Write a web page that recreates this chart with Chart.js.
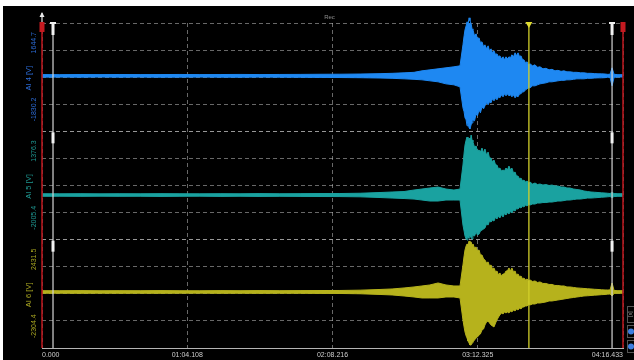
<!DOCTYPE html>
<html>
<head>
<meta charset="utf-8">
<script src="https://cdn.jsdelivr.net/npm/chart.js@4"></script>
<style>
  html, body { margin: 0; padding: 0; background: #fff; width: 634px; height: 360px; overflow: hidden; }
  #wrap { position: absolute; left: 3px; top: 6px; width: 631px; height: 354px; background: #000; }
  canvas { display: block; }
</style>
</head>
<body>
<div id="wrap"><canvas id="scope" width="631" height="354"></canvas></div>
<script>
// Sample times (s) of the min/max envelopes
const times = [0, 7.9, 16.8, 25.6, 34.4, 43.3, 52.1, 60.9, 69.7, 78.6, 87.4, 96.2, 105.0, 113.9, 122.7, 131.5, 140.4, 149.2,
  154.5, 159.8, 164.2, 167.7, 171.2, 174.8, 178.3, 181.8, 184.5,
  185.8, 186.3, 186.7, 187.2, 187.6, 188.0, 188.5, 188.9, 189.4, 189.8, 190.2,
  190.9, 191.6, 192.2, 192.9, 193.5, 194.2, 194.9, 195.5, 196.2, 196.9, 197.5, 198.2, 198.8, 199.5, 200.2, 200.8, 201.5, 202.1, 202.8,
  203.5, 204.1, 204.8, 205.4, 206.1, 206.8, 207.4, 208.1, 208.8, 209.4, 210.1, 210.8, 211.4, 212.1, 212.7, 213.4, 214.1, 214.7, 215.4,
  216.5, 217.6, 218.7, 219.8,
  221.1, 222.4, 223.8, 225.1, 226.4, 227.7, 229.1, 230.4, 231.7, 233.0,
  234.6, 236.1, 237.7, 239.2, 240.8, 242.3, 243.8, 245.4, 246.9, 248.5,
  249.6, 250.7, 251.6, 252.5, 254.2, 256.433];

// AI 4 envelope (V)
const ai4High = [-10, -12, -8, -11, -7, -10, -9, -6, -10, -8, -5, -9, -6, -4, 0, 2, 8, 20,
  30, 46, 62, 110, 142, 175, 207, 239, 271,
  944, 1233, 1426, 1554, 1682, 1586, 1811, 1714, 1618, 1458, 1426,
  1233, 1297, 1137, 1169, 1009, 1041, 880, 944, 816, 912, 752, 816, 688, 752, 624, 656, 560, 592, 495,
  560, 463, 560, 495, 560, 527, 624, 560, 688, 592, 688, 560, 592, 463, 463, 367, 399, 303, 335,
  271, 303, 223, 239,
  175, 191, 142, 159, 110, 126, 94, 110, 78, 78,
  62, 62, 46, 46, 30, 30, 21, 14, 14, 8,
  -2, -2, 207, -2, -12, -12];
const ai4Low = [-92, -90, -94, -89, -93, -91, -95, -92, -90, -93, -96, -91, -94, -97, -100, -104, -110, -120,
  -130, -146, -162, -178, -210, -242, -307, -339, -403,
  -1077, -1205, -1397, -1462, -1654, -1558, -1718, -1750, -1622, -1558, -1462,
  -1494, -1269, -1333, -1141, -1237, -1044, -1109, -1012, -916, -980, -884, -916, -788, -852, -756, -820, -724, -756, -660,
  -724, -627, -692, -627, -692, -660, -724, -660, -756, -692, -724, -627, -627, -563, -563, -499, -467, -435, -435,
  -371, -371, -339, -307,
  -291, -275, -242, -242, -226, -210, -194, -194, -178, -178,
  -162, -146, -146, -146, -130, -130, -121, -114, -114, -108,
  -98, -98, -371, -98, -88, -88];

// AI 5 envelope (V)
const ai5High = [-572, -574, -570, -575, -571, -573, -569, -572, -574, -570, -573, -568, -572, -569, -566, -565, -556, -534,
  -518, -503, -456, -425, -393, -362, -425, -456, -425,
  325, 699, 949, 1105, 1199, 1043, 1168, 1011, 1261, 1105, 1043,
  887, 918, 762, 793, 730, 855, 699, 824, 637, 730, 543, 543, 418, 481, 325, 325, 200, 231, 137,
  169, 137, 231, 169, 293, 169, 231, 75, 106, -19, -19, -112, -81, -175, -144, -206, -175, -237, -206,
  -269, -237, -284, -269,
  -300, -284, -315, -300, -331, -331, -362, -362, -393, -393,
  -425, -440, -456, -487, -503, -518, -525, -534, -543, -550,
  -556, -565, -534, -565, -571, -571];
const ai5Low = [-652, -650, -654, -649, -653, -651, -656, -652, -649, -655, -651, -656, -653, -655, -658, -660, -668, -690,
  -706, -721, -737, -768, -799, -799, -768, -768, -768,
  -1549, -1736, -1892, -1986, -2017, -1923, -1954, -1892, -1923, -1986, -1861,
  -1892, -1767, -1861, -1830, -1736, -1705, -1673, -1642, -1517, -1549, -1424, -1455, -1393, -1424, -1299, -1361, -1268, -1330, -1221,
  -1299, -1190, -1236, -1158, -1205, -1127, -1174, -1080, -1112, -1033, -1049, -987, -1018, -955, -987, -924, -955, -909, -924,
  -893, -893, -862, -862,
  -846, -846, -831, -831, -815, -799, -799, -784, -768, -768,
  -752, -737, -737, -721, -706, -706, -699, -690, -681, -674,
  -668, -659, -690, -659, -653, -653];

// AI 6 envelope (V)
const ai6High = [202, 200, 204, 199, 203, 201, 205, 200, 198, 204, 201, 206, 202, 205, 208, 210, 224, 254,
  276, 320, 364, 407, 451, 538, 451, 407, 407,
  1325, 1719, 1981, 2156, 2244, 2200, 2375, 2287, 2331, 2200, 2244,
  2069, 2112, 1938, 1981, 1763, 1763, 1588, 1544, 1413, 1457, 1282, 1325, 1151, 1194, 1019, 1063, 888, 976, 845,
  932, 932, 1063, 1063, 1194, 1063, 1194, 1019, 1063, 888, 932, 801, 845, 713, 757, 670, 713, 626, 670,
  604, 626, 560, 582,
  517, 517, 473, 473, 429, 429, 407, 407, 364, 364,
  342, 320, 311, 298, 285, 276, 263, 254, 241, 232,
  232, 232, 538, 211, 202, 202];
const ai6Low = [88, 90, 86, 91, 87, 89, 85, 90, 92, 85, 89, 84, 88, 86, 82, 79, 66, 36,
  14, -30, -74, -117, -117, -117, -74, -74, -117,
  -1079, -1385, -1604, -1779, -1866, -1997, -2085, -2172, -2172, -2085, -2041,
  -1954, -1866, -1822, -1735, -1691, -1516, -1473, -1298, -1167, -1123, -1210, -1298, -1341, -1385, -1210, -1079, -948, -861, -773,
  -817, -729, -773, -729, -773, -686, -729, -642, -686, -598, -642, -555, -598, -511, -511, -467, -467, -402, -423,
  -380, -380, -336, -336,
  -314, -292, -248, -248, -227, -205, -183, -161, -139, -117,
  -95, -74, -52, -30, -21, -8, 5, 14, 27, 36,
  49, 58, -30, 79, 88, 88];

const channelNames = ['AI 4 [V]', 'AI 5 [V]', 'AI 6 [V]'];
const axisMax = [1644.7, 1376.3, 2431.5];
const axisMin = [-1830.2, -2005.4, -2304.4];
const xTickValues = [0, 64.108, 128.216, 192.325, 256.433];
const xTickLabels = ['0.000', '01:04.108', '02:08.216', '03:12.325', '04:16.433'];
const cursorTimes = [4.86, 251.6];
const markerTime = 214.9;

const waveColors = ['#1e88f2', '#1aa2a0', '#b6b21c'];
const labelColors = ['#2c6cd8', '#1f9a94', '#a8a520'];
const gridColor = 'rgba(190,190,190,0.55)';
const FONT = '"Liberation Sans", Arial, sans-serif';

function envelope(i, high, low) {
  const axis = 'y' + i;
  const common = {
    yAxisID: axis, borderColor: waveColors[i], backgroundColor: waveColors[i],
    borderWidth: 1, pointRadius: 0, tension: 0, clip: false
  };
  return [
    Object.assign({ label: channelNames[i] + ' max', data: times.map((t, k) => ({ x: t, y: high[k] })), fill: '+1' }, common),
    Object.assign({ label: channelNames[i] + ' min', data: times.map((t, k) => ({ x: t, y: low[k] })), fill: false }, common)
  ];
}

function panelAxis(i) {
  return {
    type: 'linear', position: 'left', stack: 'panels', stackWeight: 1,
    min: axisMin[i], max: axisMax[i],
    afterBuildTicks: s => { s.ticks = [0, 1, 2, 3, 4].map(k => ({ value: axisMin[i] + (axisMax[i] - axisMin[i]) * k / 4 })); },
    afterFit: s => { s.width = 0; },
    ticks: { display: false },
    grid: { color: gridColor, lineWidth: 1, drawTicks: false },
    border: { display: false, dash: [4, 3] }
  };
}

function rotText(ctx, text, x, y, align) {
  ctx.save();
  ctx.translate(x, y);
  ctx.rotate(-Math.PI / 2);
  ctx.textAlign = align;
  ctx.textBaseline = 'middle';
  ctx.fillText(text, 0, 0);
  ctx.restore();
}

const overlay = {
  id: 'overlay',
  afterDraw(chart) {
    const { ctx, scales, chartArea } = chart;
    const xs = scales.x;
    const panels = [scales.y0, scales.y1, scales.y2];
    const top = chartArea.top, bottom = chartArea.bottom;
    ctx.save();

    // recording label
    ctx.fillStyle = '#8c8c8c';
    ctx.font = '6px ' + FONT;
    ctx.textAlign = 'center';
    ctx.textBaseline = 'middle';
    ctx.fillText('Rec', xs.getPixelForValue(128.216) - 3, top - 6);

    // range limit lines
    [xs.min, xs.max].forEach(t => {
      const x = xs.getPixelForValue(t);
      ctx.strokeStyle = '#b3161c';
      ctx.lineWidth = 1.6;
      ctx.beginPath(); ctx.moveTo(x, top - 1); ctx.lineTo(x, bottom); ctx.stroke();
      ctx.fillStyle = '#c41a20';
      ctx.fillRect(x - 2.5, top - 1, 5, 10);
    });

    // up arrow above the left limit
    const xl = xs.getPixelForValue(xs.min);
    ctx.strokeStyle = '#e8e8e8'; ctx.fillStyle = '#e8e8e8'; ctx.lineWidth = 1.2;
    ctx.beginPath(); ctx.moveTo(xl, top - 10); ctx.lineTo(xl, top - 1); ctx.stroke();
    ctx.beginPath(); ctx.moveTo(xl - 2.5, top - 6); ctx.lineTo(xl, top - 11); ctx.lineTo(xl + 2.5, top - 6); ctx.closePath(); ctx.fill();

    // white cursors
    cursorTimes.forEach(t => {
      const x = xs.getPixelForValue(t);
      ctx.strokeStyle = '#d6d6d6'; ctx.lineWidth = 1.2;
      ctx.beginPath(); ctx.moveTo(x, top - 1); ctx.lineTo(x, bottom); ctx.stroke();
      ctx.fillStyle = '#f2f2f2';
      ctx.fillRect(x - 3, top - 1, 6, 2);
      panels.forEach(p => ctx.fillRect(x - 1.5, p.top + 1, 3, 11));
    });

    // yellow marker
    const xm = xs.getPixelForValue(markerTime);
    ctx.strokeStyle = '#d2cf2a'; ctx.lineWidth = 1.3;
    ctx.beginPath(); ctx.moveTo(xm, top); ctx.lineTo(xm, bottom); ctx.stroke();
    ctx.fillStyle = '#e0dc30';
    ctx.beginPath(); ctx.moveTo(xm - 3.5, top - 1); ctx.lineTo(xm + 3.5, top - 1); ctx.lineTo(xm, top + 5); ctx.closePath(); ctx.fill();

    // channel axis labels
    panels.forEach((p, i) => {
      ctx.fillStyle = labelColors[i];
      ctx.font = '7px ' + FONT;
      rotText(ctx, axisMax[i].toFixed(1), 31.5, p.top + 9, 'right');
      rotText(ctx, axisMin[i].toFixed(1), 31.5, p.bottom - 10, 'left');
      ctx.font = '7.5px ' + FONT;
      rotText(ctx, channelNames[i], 25.5, (p.top + p.bottom) / 2 + 1, 'center');
    });

    // side widget
    const wx = chart.width - 7;
    ctx.strokeStyle = '#555'; ctx.lineWidth = 1;
    ctx.strokeRect(wx + 0.5, 300.5, 9, 16);
    ctx.fillStyle = '#9a9a9a';
    ctx.font = '5px ' + FONT;
    rotText(ctx, '[s]', wx + 4, 308, 'center');
    ctx.strokeRect(wx + 0.5, 319.5, 9, 12);
    ctx.strokeRect(wx + 0.5, 334.5, 9, 12);
    ctx.fillStyle = '#3d7de0';
    ctx.beginPath(); ctx.arc(wx + 4, 325.5, 3, 0, Math.PI * 2); ctx.fill();
    ctx.beginPath(); ctx.arc(wx + 4, 340.5, 3, 0, Math.PI * 2); ctx.fill();

    ctx.restore();
  }
};

new Chart(document.getElementById('scope'), {
  type: 'line',
  data: {
    datasets: [
      ...envelope(0, ai4High, ai4Low),
      ...envelope(1, ai5High, ai5Low),
      ...envelope(2, ai6High, ai6Low)
    ]
  },
  options: {
    responsive: false,
    animation: false,
    events: [],
    layout: { padding: { left: 39, top: 17, right: 11, bottom: 0 } },
    plugins: { legend: { display: false }, tooltip: { enabled: false } },
    scales: {
      x: {
        type: 'linear', min: 0, max: 256.433,
        afterBuildTicks: s => { s.ticks = xTickValues.map(v => ({ value: v })); },
        afterFit: s => { s.height = 12; },
        ticks: {
          align: 'inner', color: '#cdcdcd', padding: 3, maxRotation: 0, minRotation: 0, autoSkip: false,
          font: { family: FONT, size: 7 },
          callback: (v, i) => xTickLabels[i]
        },
        grid: { color: gridColor, lineWidth: 1, drawTicks: false },
        border: { display: true, color: '#b4b4b4', width: 1, dash: [4, 3] }
      },
      y2: panelAxis(2),
      y1: panelAxis(1),
      y0: panelAxis(0)
    }
  },
  plugins: [overlay]
});
</script>
</body>
</html>
